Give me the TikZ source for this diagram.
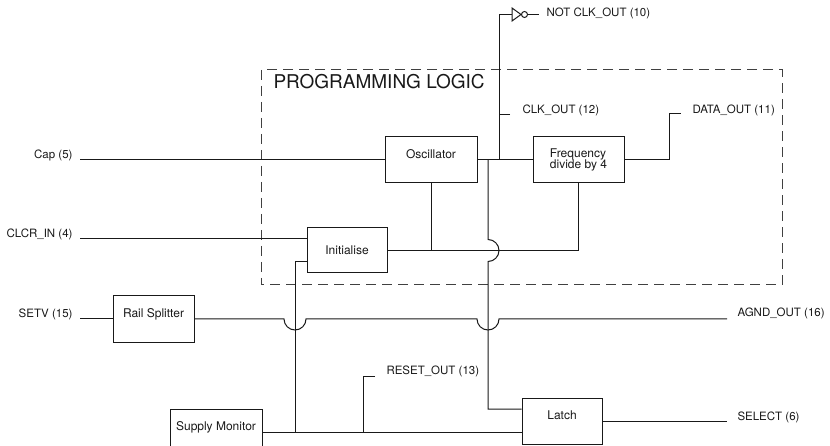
\documentclass[tikz,border=0pt]{standalone}
\usepackage{fontspec}
\setmainfont{TeX Gyre Heros}

\begin{document}
\begin{tikzpicture}[x=1pt, y=-1pt, line width=1pt, black!90,
    blk/.style={draw, minimum width=#1, minimum height=46pt, inner sep=0pt, font=\fontsize{12}{11.5}\selectfont},
    txtup/.style={text height=8.6pt, text depth=12pt},
    lbl/.style={inner sep=0pt, font=\fontsize{11.5}{13}\selectfont}]
            \useasboundingbox (0,0) rectangle (830,446);
            \clip (0,0) rectangle (830,446);
            \draw[dashed, dash pattern=on 10pt off 6pt, black!75] (261,70) rectangle (782,285);
            \node[anchor=base west, inner sep=0pt, font=\fontsize{19}{22}\selectfont] (title) at (273,89) {PROGRAMMING LOGIC};
            \node[blk=92pt, txtup] (osc) at (431,160) {Oscillator};
            \node[blk=91pt, align=left] (freq) at (578.5,160) {Frequency\\divide by 4};
            \node[blk=80pt, minimum height=45pt] (init) at (347,250.5) {Initialise};
            \node[blk=81pt, txtup] (rail) at (153.5,319) {Rail Splitter};
            \node[blk=92pt, txtup] (sm) at (216,432) {Supply Monitor};
            \node[blk=80pt, txtup] (latch) at (562,421) {Latch};
            \coordinate (capin) at (80,160);
            \coordinate (clcrin) at (80,239);
            \coordinate (setvin) at (80,319);
            \coordinate (tap) at (488,160);
            \coordinate (clk) at (499,160);
            \coordinate (pwr) at (295,262);
            \coordinate (inv) at (512,14.5);
            \coordinate (clkout) at (510,115);
            \coordinate (dataout) at (681,114);
            \coordinate (rstout) at (375,376);
            \coordinate (agnd) at (727,319);
            \coordinate (sel) at (727,421);
            \node[lbl, anchor=base east] (cap) at (73,158.5) {Cap (5)};
            \node[lbl, anchor=base east] (clcr) at (73,237.5) {CLCR\_IN (4)};
            \node[lbl, anchor=base east] (setv) at (73,317.5) {SETV (15)};
            \node[lbl, anchor=base west] (notclk) at (546,16.5) {NOT CLK\_OUT (10)};
            \node[lbl, anchor=base west] (clklbl) at (522,113.5) {CLK\_OUT (12)};
            \node[lbl, anchor=base west] (data) at (692,113.5) {DATA\_OUT (11)};
            \node[lbl, anchor=base west] (rst) at (386,374.5) {RESET\_OUT (13)};
            \node[lbl, anchor=base west] (agndlbl) at (737,316.5) {AGND\_OUT (16)};
            \node[lbl, anchor=base west] (sellbl) at (737,420) {SELECT (6)};
            \draw (capin) -- (osc.west);
            \draw (clcrin) -- (clcrin -| init.west);
            \draw (setvin) -- (rail.west);
            \draw (osc.east) -- (freq.west);
            \draw (osc.south) -- (osc.south |- init.east);
            \draw (init.east) -| (freq.south);
            \draw (freq.east) -- ++(45,0) |- (dataout);
            \draw (clkout) -- (clkout -| clk);
            \draw (clk) |- (inv);
            \draw (inv) ++(0,-6.5) -- ++(9,6.5) -- ++(-9,6.5) -- cycle;
            \draw (inv) ++(12.5,0) circle[radius=3pt];
            \draw (inv) ++(15.5,0) -- ++(11.5,0);
            \draw (tap) -- ([yshift=11pt]tap |- init.east) arc(90:-90:11pt) -- ([yshift=12pt]latch.west -| tap) -- ([yshift=12pt]latch.west);
            \draw ([yshift=-11.5pt]init.west) -| (pwr |- sm.east);
            \draw (rail.east) -- ([xshift=-11pt]pwr |- rail.east) arc(180:360:11pt) -- ([xshift=-11pt]tap |- rail.east) arc(180:360:11pt) -- (agnd);
            \draw (sm.east) -- (sm.east -| latch.west);
            \draw (rstout) -- ++(-12,0) coordinate (rstbend) -- (rstbend |- sm.east);
            \draw (latch.east) -- (sel);
          \end{tikzpicture}
\end{document}
